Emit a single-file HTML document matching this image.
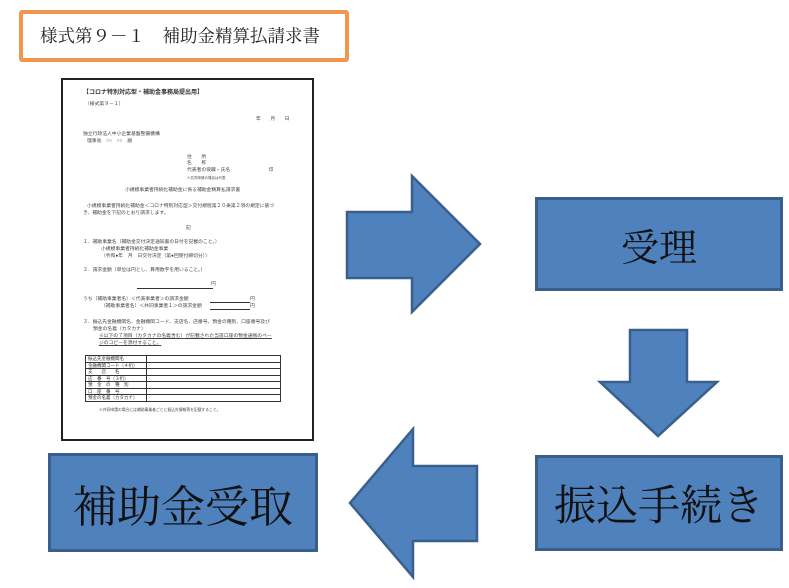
<!DOCTYPE html>
<html><head><meta charset="utf-8"><style>
body{margin:0;width:789px;height:588px;background:#fff;position:relative;overflow:hidden;font-family:"Liberation Serif","Noto Serif CJK JP","Noto Serif CJK SC",serif}
.t{position:absolute;left:19px;top:10px;width:322px;height:44px;border:4px solid #f29650;border-radius:3px;font-size:17.5px;line-height:44px;text-indent:17px;color:#222;white-space:nowrap}
.doc{position:absolute;left:61px;top:78px;width:249px;height:359px;border:2px solid #222;background:#fff;font-family:"Liberation Sans","Noto Sans CJK JP",sans-serif;font-size:4.8px;color:#444;line-height:6px}
.doc div{position:absolute;white-space:nowrap}
.box{position:absolute;background:#4f81bd;border:3px solid #3a5f8c;box-sizing:border-box;display:flex;align-items:center;justify-content:center;color:#111}
table{border-collapse:collapse}
td{border:0.7px solid #333;height:5.5px;padding:0 2px;font-size:4.5px;line-height:5px;color:#333}
</style></head><body>
<div class="t">様式第９－１　補助金精算払請求書</div>
<div class="doc">
<div style="left:20px;top:10px;font-size:6px;font-weight:bold;color:#333">【コロナ特別対応型・補助金事務局提出用】</div>
<div style="left:22px;top:22px">（様式第９－１）</div>
<div style="left:193px;top:37px">年　　月　　日</div>
<div style="left:20px;top:52px">独立行政法人中小企業基盤整備機構</div>
<div style="left:24px;top:59px">理事長　○○　○○　殿</div>
<div style="left:124px;top:75px">住　　所</div>
<div style="left:124px;top:81px">名　　称</div>
<div style="left:124px;top:88px">代表者の役職・氏名　　　　　　　　印</div>
<div style="left:124px;top:95px;font-size:3.5px">※共同申請の場合は代表</div>
<div style="left:62px;top:108px">小規模事業者持続化補助金に係る補助金精算払請求書</div>
<div style="left:24px;top:124px">小規模事業者持続化補助金＜コロナ特別対応型＞交付規程第２０条第２項の規定に基づ</div>
<div style="left:20px;top:131px">き、補助金を下記のとおり請求します。</div>
<div style="left:123px;top:146px">記</div>
<div style="left:20px;top:160px">１．補助事業名（補助金交付決定通知書の日付を記載のこと。）</div>
<div style="left:38px;top:167px">小規模事業者持続化補助金事業</div>
<div style="left:38px;top:174px">（令和●年　月　日交付決定（第●回受付締切分））</div>
<div style="left:20px;top:188px">２．請求金額（単位は円とし、算用数字を用いること。）</div>
<div style="left:74px;top:203px;width:76px;border-bottom:0.7px solid #333;height:5px"></div><div style="left:148px;top:202px">円</div>
<div style="left:20px;top:217px">うち（補助事業者名）＜代表事業者＞の請求金額</div>
<div style="left:38px;top:224px">（補助事業者名）＜共同事業者１＞の請求金額</div>
<div style="left:147px;top:221px;width:40px;border-bottom:0.7px solid #333;height:1px"></div><div style="left:187px;top:217px">円</div>
<div style="left:147px;top:228px;width:40px;border-bottom:0.7px solid #333;height:1px"></div><div style="left:187px;top:224px">円</div>
<div style="left:20px;top:240px">３．振込先金融機関名、金融機関コード、支店名、店番号、預金の種別、口座番号及び</div>
<div style="left:30px;top:247px">預金の名義（カタカナ）</div>
<div style="left:36px;top:254px;text-decoration:underline">※以下の７項目（カタカナの名義含む）が記載された当該口座の預金通帳のペー</div>
<div style="left:36px;top:261px;text-decoration:underline">ジのコピーを添付すること。</div>
<div style="left:22px;top:275px"><table style="width:196px"><tr><td style="width:56px">振込先金融機関名</td><td></td></tr><tr><td>金融機関コード（４桁）</td><td></td></tr><tr><td>支　　店　　名</td><td></td></tr><tr><td>店　番　号（３桁）</td><td></td></tr><tr><td>預　金　の　種　別</td><td></td></tr><tr><td>口　座　番　号</td><td></td></tr><tr><td>預金の名義（カタカナ）</td><td></td></tr></table></div>
<div style="left:36px;top:327px;font-size:3.8px">※共同申請の場合には補助事業者ごとに振込先情報等を記載すること。</div>
</div>
<svg width="789" height="588" style="position:absolute;left:0;top:0">
<g fill="#4f81bd" stroke="#3a5f8c" stroke-width="2.5" stroke-linejoin="miter">
<polygon points="347,212 412,212 412,176 480,244 412,312 412,278 347,278"/>
<polygon points="630,330 687,330 687,382 717,382 658,436 600,382 630,382"/>
<polygon points="477,466 413,466 413,429 350,503 413,577 413,541 477,541"/>
</g></svg>
<div class="box" style="left:535px;top:197px;width:248px;height:94px;font-size:38px">受理</div>
<div class="box" style="left:535px;top:455px;width:248px;height:96px;font-size:42px">振込手続き</div>
<div class="box" style="left:48px;top:453px;width:270px;height:99px;font-size:44px">補助金受取</div>
</body></html>
